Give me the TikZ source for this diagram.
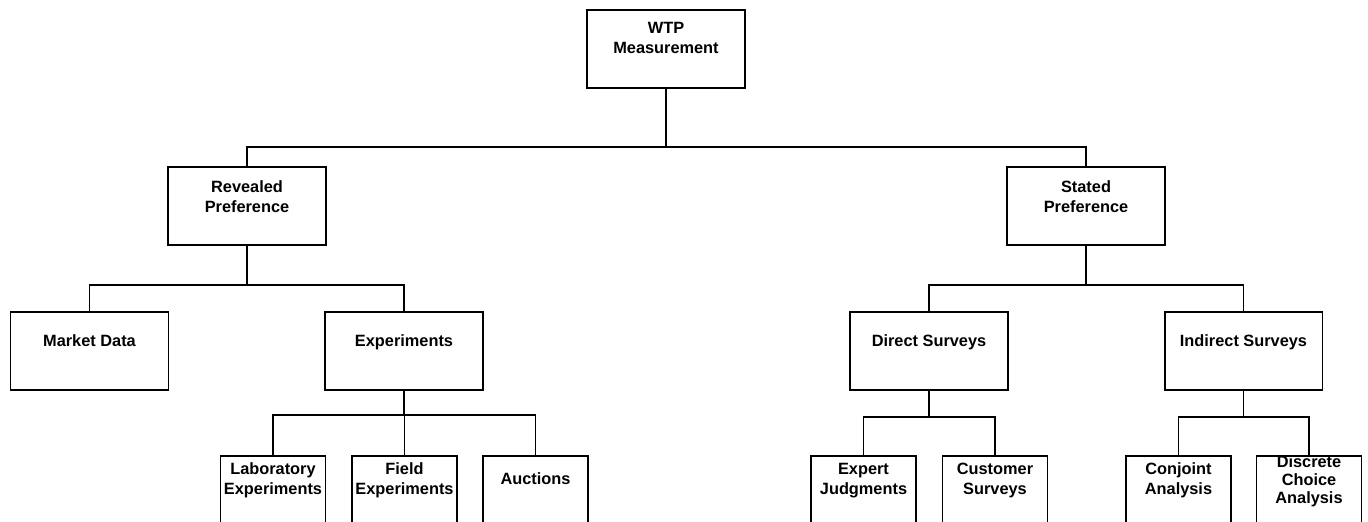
\documentclass[tikz,border=0pt]{standalone}
\usepackage{fontspec}
\setmainfont{Liberation Sans}
\usepackage{tikz}
\usetikzlibrary{positioning}
\tikzstyle{block} = [rectangle, draw=black, line width=1.1pt, minimum width=3.16cm, minimum height=1.56cm, inner sep=0pt]
\tikzstyle{leaf} = [block, minimum width=2.1cm]
\tikzstyle{caption} = [align=center, inner sep=0pt, anchor=base, font=\fontsize{9.3}{11.3}\selectfont\bfseries]
\tikzstyle{link} = [line width=1.1pt]

\begin{document}
\begin{tikzpicture}[x=0.02cm, y=-0.02cm]
\useasboundingbox (0,0) rectangle (1368,521);
% boxes
\node (wtp) [block] at (666,49) {};
\node (rp) [block] at (247,206) {};
\node (sp) [block] at (1086,206) {};
\node (market) [block] at (89.5,351) {};
\node (exper) [block] at (404,351) {};
\node (direct) [block] at (929,351) {};
\node (indirect) [block] at (1243.5,351) {};
\node (lab) [leaf] at (273,495) {};
\node (field) [leaf] at (404.5,495) {};
\node (auction) [leaf] at (535.5,495) {};
\node (expert) [leaf] at (863.5,495) {};
\node (customer) [leaf] at (995,495) {};
\node (conjoint) [leaf] at (1178.5,495) {};
\node (discrete) [leaf] at (1309,495) {};

% texts (placed by last baseline)
\node (wtp-t) [caption] at (666,53) {WTP\\Measurement};
\node (rp-t) [caption] at (247,212) {Revealed\\Preference};
\node (sp-t) [caption] at (1086,212) {Stated\\Preference};
\node (market-t) [caption] at (89.5,346) {Market Data};
\node (exper-t) [caption] at (404,346) {Experiments};
\node (direct-t) [caption] at (929,346) {Direct Surveys};
\node (indirect-t) [caption] at (1243.5,346) {Indirect Surveys};
\node (lab-t) [caption] at (273,494) {Laboratory\\Experiments};
\node (field-t) [caption] at (404.5,494) {Field\\Experiments};
\node (auction-t) [caption] at (535.5,484) {Auctions};
\node (expert-t) [caption] at (863.5,494) {Expert\\Judgments};
\node (customer-t) [caption] at (995,494) {Customer\\Surveys};
\node (conjoint-t) [caption] at (1178.5,494) {Conjoint\\Analysis};
\node (discrete-t) [caption, font=\fontsize{9.3}{10.2}\selectfont\bfseries] at (1309,503) {Discrete\\Choice\\Analysis};

% buses
\coordinate (bus-wtp) at (666,147);
\coordinate (bus-rp) at (247,285);
\coordinate (bus-sp) at (1086,285);
\coordinate (bus-exper) at (404,415);
\coordinate (bus-direct) at (929,417);
\coordinate (bus-indirect) at (1243.5,417);

\draw[link] (wtp.south) -- (bus-wtp);
\draw[link] (rp.north) |- (bus-wtp);
\draw[link] (sp.north) |- (bus-wtp);

\draw[link] (rp.south) -- (bus-rp);
\draw[link] (market.north) |- (bus-rp);
\draw[link] (exper.north) |- (bus-rp);

\draw[link] (sp.south) -- (bus-sp);
\draw[link] (direct.north) |- (bus-sp);
\draw[link] (indirect.north) |- (bus-sp);

\draw[link] (exper.south) -- (bus-exper);
\draw[link] (lab.north) |- (bus-exper);
\draw[link] (field.north) |- (bus-exper);
\draw[link] (auction.north) |- (bus-exper);

\draw[link] (direct.south) -- (bus-direct);
\draw[link] (expert.north) |- (bus-direct);
\draw[link] (customer.north) |- (bus-direct);

\draw[link] (indirect.south) -- (bus-indirect);
\draw[link] (conjoint.north) |- (bus-indirect);
\draw[link] (discrete.north) |- (bus-indirect);
\end{tikzpicture}
\end{document}
